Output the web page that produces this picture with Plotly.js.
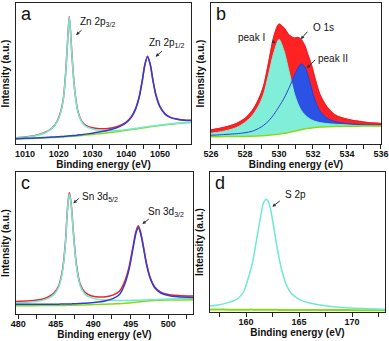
<!DOCTYPE html>
<html>
<head>
<meta charset="utf-8">
<script src="https://cdn.plot.ly/plotly-3.0.1.min.js"></script>
<style>
  html, body { margin: 0; padding: 0; background: #fff; }
  #graph { width: 389px; height: 341px; }
</style>
</head>
<body>
<div id="graph"></div>
<script>
// panel a: Zn 2p
const aX = [1007.3, 1010, 1013, 1016, 1018, 1019.5, 1020.5, 1021.3, 1022, 1022.5, 1023.1, 1023.7, 1024.2, 1024.9, 1025.7, 1026.7, 1028, 1030, 1032, 1034, 1036, 1038, 1040, 1041.5, 1042.8, 1043.8, 1044.7, 1045.5, 1046.3, 1047.1, 1047.9, 1048.8, 1050, 1051.5, 1053, 1055, 1057, 1059.2];
const aGreen = [3.5, 3.8, 4.1, 4.4, 4.6, 4.8, 4.9, 5.0, 5.1, 5.2, 5.3, 5.4, 5.5, 5.6, 5.8, 6.0, 6.3, 6.8, 7.3, 7.8, 8.4, 9.0, 9.7, 10.2, 10.7, 11.0, 11.3, 11.6, 11.9, 12.2, 12.5, 12.8, 13.2, 13.6, 14.0, 14.5, 14.9, 15.3];
const aRed = [4.4, 5.0, 6.0, 8.3, 11.4, 16.1, 22.3, 31.4, 49.4, 68.6, 90.5, 70.9, 52.5, 34.6, 22.9, 16.6, 13.2, 11.5, 10.9, 10.9, 11.6, 13.0, 15.6, 19.4, 25.3, 33.2, 44.4, 56.2, 62.3, 56.8, 45.5, 34.9, 26.6, 21.5, 19.1, 17.7, 17.1, 16.9];
const aCyan = [4.2, 4.8, 5.8, 8.0, 11.1, 15.8, 21.9, 31.0, 49.0, 68.2, 90.1, 70.4, 52.0, 34.0, 22.3, 16.0, 12.5, 10.6, 9.7, 9.3, 9.4, 9.7, 10.2, 10.7, 11.1, 11.4, 11.7, 12.0, 12.3, 12.6, 12.8, 13.1, 13.5, 13.9, 14.2, 14.7, 15.1, 15.5];
const aBlue = [3.7, 4.0, 4.3, 4.7, 4.9, 5.1, 5.3, 5.4, 5.5, 5.6, 5.8, 5.9, 6.0, 6.1, 6.4, 6.6, 7.0, 7.7, 8.5, 9.4, 10.6, 12.3, 15.1, 18.9, 24.9, 32.8, 44.0, 55.8, 61.9, 56.4, 45.2, 34.6, 26.3, 21.2, 18.9, 17.5, 16.9, 16.7];

// panel b: O 1s
const bX = [526, 526.5, 527, 527.5, 528, 528.4, 528.8, 529.1, 529.4, 529.7, 530, 530.3, 530.6, 530.9, 531.1, 531.3, 531.5, 531.7, 531.9, 532.1, 532.4, 532.8, 533.3, 534, 535, 536];
const bRed = [9.9, 11, 12.5, 14.5, 18, 23, 31.5, 41, 58, 76, 85, 82, 77, 75, 75.5, 74, 70, 63, 56, 47, 35, 26.5, 20.5, 17.5, 15.5, 14.5];
const bCyan = [7.6, 8.5, 9.8, 11.7, 15.3, 19.8, 27, 35.5, 50, 65, 74.2, 66, 51, 36, 29, 24, 21, 18.8, 17.2, 16.2, 15.2, 14.5, 14.0, 13.6, 13.3, 13.1];
const bBlue = [6.2, 6.5, 6.9, 7.3, 8.0, 9.0, 11.0, 13.3, 16.5, 21, 26.5, 32.5, 40, 48.5, 53.5, 56.7, 55, 48.5, 40, 31.5, 23.5, 18.5, 15.8, 14.4, 13.6, 13.3];
const bGreen = [5.2, 5.2, 5.3, 5.3, 5.4, 5.5, 5.7, 5.9, 6.2, 6.6, 7.0, 7.6, 8.3, 9.0, 9.6, 10.1, 10.6, 11.0, 11.4, 11.7, 12.0, 12.3, 12.5, 12.6, 12.7, 12.8];

// panel c: Sn 3d
const cX = [479.7, 481.5, 483, 484, 484.8, 485.4, 485.9, 486.3, 486.55, 486.8, 487.05, 487.35, 487.75, 488.25, 488.9, 489.7, 490.7, 491.7, 492.6, 493.5, 494.2, 494.8, 495.3, 495.7, 496.0, 496.3, 496.65, 497.1, 497.6, 498.2, 499, 500, 501.3, 503.3];
const cGreen = [5.8, 5.8, 5.9, 5.9, 5.9, 6.0, 6.0, 6.0, 6.1, 6.1, 6.1, 6.2, 6.2, 6.3, 6.4, 6.5, 6.7, 6.9, 7.1, 7.3, 7.5, 7.8, 8.1, 8.3, 8.5, 8.7, 8.9, 9.1, 9.3, 9.5, 9.7, 9.8, 9.9, 10.0];
const cRed = [8.8, 9.3, 10.2, 12.0, 15.0, 19.9, 31.0, 51.0, 72.9, 85.5, 78.0, 58.0, 35.1, 21.1, 15.2, 12.9, 12.0, 12.2, 13.3, 16.0, 23.0, 33.7, 47.5, 58.3, 62.2, 58.0, 48.9, 35.8, 25.7, 19.1, 15.4, 13.7, 13.0, 12.6];
const cCyan = [7.8, 8.3, 9.3, 11, 14, 19, 30, 50, 72, 84.5, 77, 57, 34, 20, 14, 11.5, 10.3, 9.8, 9.6, 9.5, 9.5, 9.5, 9.6, 9.6, 9.7, 9.7, 9.8, 9.9, 10.0, 10.1, 10.3, 10.5, 10.8, 11.0];
const cBlue = [6.8, 6.8, 6.8, 6.9, 6.9, 6.9, 7.0, 7.0, 7.0, 7.1, 7.1, 7.2, 7.3, 7.4, 7.6, 7.9, 8.4, 9.3, 10.8, 13.8, 21, 32, 46, 57, 61, 57, 48, 35, 25, 18.5, 14.8, 13.0, 12.1, 11.6];

// panel d: S 2p
const dX = [156.6, 157.5, 158.3, 158.8, 159.3, 159.8, 160.2, 160.6, 161.0, 161.35, 161.65, 161.9, 162.15, 162.45, 162.75, 163.1, 163.45, 163.8, 164.3, 165.0, 165.8, 166.8, 168, 169.5, 171, 173.1];
const dCyan = [4.3, 5.2, 6.7, 8.0, 10, 15, 24, 35, 52, 67, 78, 80.5, 78, 68, 54, 39, 27.5, 19.5, 13, 9, 6.8, 5.2, 4.0, 3.1, 2.5, 2.0];
const dGreen = [1.8, 1.8, 1.7, 1.7, 1.7, 1.7, 1.7, 1.7, 1.6, 1.6, 1.6, 1.6, 1.6, 1.6, 1.6, 1.5, 1.5, 1.5, 1.5, 1.5, 1.4, 1.4, 1.4, 1.4, 1.3, 1.3];

const RED = "#f0202a", CYAN = "#6fe8d4", BLUE = "#2a3fd6", GREEN = "#86dc10";
const CYANFILL = "#80eed8", BLUEFILL = "#2b52e4", REDFILL = "#ff2222";

function line(x, y, color, n, width) {
    return {
        x: x, y: y, type: "scatter", mode: "lines",
        xaxis: "x" + (n > 1 ? n : ""), yaxis: "y" + (n > 1 ? n : ""),
        line: { color: color, width: width || 1.5, shape: "spline", smoothing: 0.8 },
        hoverinfo: "skip", showlegend: false
    };
}
function area(x, y, color, n) {
    const t = line(x, y, color, n, 1);
    t.fill = "tozeroy";
    t.fillcolor = color;
    return t;
}

// white fill under the background line in panel b
const mask = area(bX, bGreen, "#ffffff", 2);
mask.line.width = 0;

const data = [
    line(aX, aGreen, GREEN, 1), line(aX, aRed, RED, 1), line(aX, aCyan, CYAN, 1), line(aX, aBlue, BLUE, 1),
    area(bX, bRed, REDFILL, 2), area(bX, bBlue, BLUEFILL, 2), area(bX, bCyan, CYANFILL, 2), mask,
    line(bX, bBlue, BLUE, 2, 1), line(bX, bGreen, GREEN, 2), line(bX, bRed, RED, 2, 1.5),
    line(cX, cGreen, GREEN, 3), line(cX, cRed, RED, 3), line(cX, cCyan, CYAN, 3), line(cX, cBlue, BLUE, 3),
    line(dX, dGreen, GREEN, 4, 2), line(dX, dCyan, CYAN, 4)
];

const tickFont = { family: "Liberation Sans, Arial, sans-serif", size: 9, color: "#111", weight: "bold" };
const titleFont = { family: "Liberation Sans, Arial, sans-serif", size: 10, color: "#111", weight: "bold" };

function xax(domain, anchor, range, dtick, minor) {
    return {
        domain: domain, anchor: anchor, range: range, dtick: dtick, tick0: 0,
        showline: true, linecolor: "#222", linewidth: 1, mirror: true,
        ticks: "outside", ticklen: 4, tickwidth: 1, tickcolor: "#222",
        ticklabelstandoff: -3,
        minor: { dtick: minor, ticks: "outside", ticklen: 4, tickcolor: "#222" },
        showgrid: false, zeroline: false, tickfont: tickFont,
        title: { text: "Binding energy (eV)", font: titleFont, standoff: 0 }
    };
}
function yax(domain, anchor) {
    return {
        domain: domain, anchor: anchor, range: [0, 100],
        showline: true, linecolor: "#222", linewidth: 1, mirror: true,
        ticks: "", showticklabels: false, showgrid: false, zeroline: false,
        title: { text: "Intensity (a.u.)", font: titleFont, standoff: 3 }
    };
}

const annFont = { family: "Liberation Sans, Arial, sans-serif", size: 10, color: "#111" };
const letterFont = { family: "Liberation Sans, Arial, sans-serif", size: 18, color: "#111" };

function label(xref, yref, x, y, text) {
    return { xref: xref, yref: yref, x: x, y: y, text: text, showarrow: false,
             xanchor: "left", yanchor: "middle", font: annFont };
}
function arrow(xref, yref, x, y, ax, ay) {
    return { xref: xref, yref: yref, x: x, y: y, text: "", showarrow: true,
             ax: ax, ay: ay, arrowhead: 2, arrowsize: 0.7, arrowwidth: 1, arrowcolor: "#333" };
}
function letter(n, text) {
    const s = n > 1 ? n : "";
    return { xref: "x" + s + " domain", yref: "y" + s + " domain", x: 0.015, y: 1.01,
             xanchor: "left", yanchor: "top", text: text, showarrow: false, font: letterFont };
}

const layout = {
    width: 389, height: 341,
    margin: { l: 0, r: 0, t: 0, b: 0 },
    paper_bgcolor: "#fff", plot_bgcolor: "#fff",
    showlegend: false,
    xaxis: xax([0.0411, 0.491], "y", [1007.3, 1059.2], 10, 5),
    yaxis: yax([0.5777, 0.9912], "x"),
    xaxis2: xax([0.5424, 0.9794], "y2", [526, 536], 2, 1),
    yaxis2: yax([0.5777, 0.9912], "x2"),
    xaxis3: xax([0.0411, 0.4961], "y3", [479.7, 503.3], 5, 2.5),
    yaxis3: yax([0.0792, 0.4956], "x3"),
    xaxis4: xax([0.5398, 0.9897], "y4", [156.6, 173.1], 5, 2.5),
    yaxis4: yax([0.0850, 0.4956], "x4"),
    annotations: [
        letter(1, "a"), letter(2, "b"), letter(3, "c"), letter(4, "d"),
        label("x", "y", 1025.8, 86.5, "Zn 2p<sub>3/2</sub>"),
        arrow("x", "y", 1025.1, 77.3, 7, -6),
        label("x", "y", 1046.2, 71.6, "Zn 2p<sub>1/2</sub>"),
        arrow("x", "y", 1048.7, 61.9, 8, -7),
        label("x2", "y2", 527.45, 75.2, "peak I"),
        arrow("x2", "y2", 529.8, 71.5, -5, -3),
        label("x2", "y2", 531.9, 82.6, "O 1s"),
        arrow("x2", "y2", 531.28, 74.3, 8, -9),
        label("x2", "y2", 532.2, 60.3, "peak II"),
        arrow("x2", "y2", 531.63, 53.7, 10, -10),
        label("x3", "y3", 488.2, 82.6, "Sn 3d<sub>5/2</sub>"),
        arrow("x3", "y3", 487.34, 78, 7, -6),
        label("x3", "y3", 497.1, 72, "Sn 3d<sub>3/2</sub>"),
        arrow("x3", "y3", 496.54, 63.4, 8, -6),
        label("x4", "y4", 163.5, 83.6, "S 2p"),
        arrow("x4", "y4", 162.48, 75.2, 9, -7)
    ]
};

Plotly.newPlot("graph", data, layout, { staticPlot: true });
</script>
</body>
</html>
